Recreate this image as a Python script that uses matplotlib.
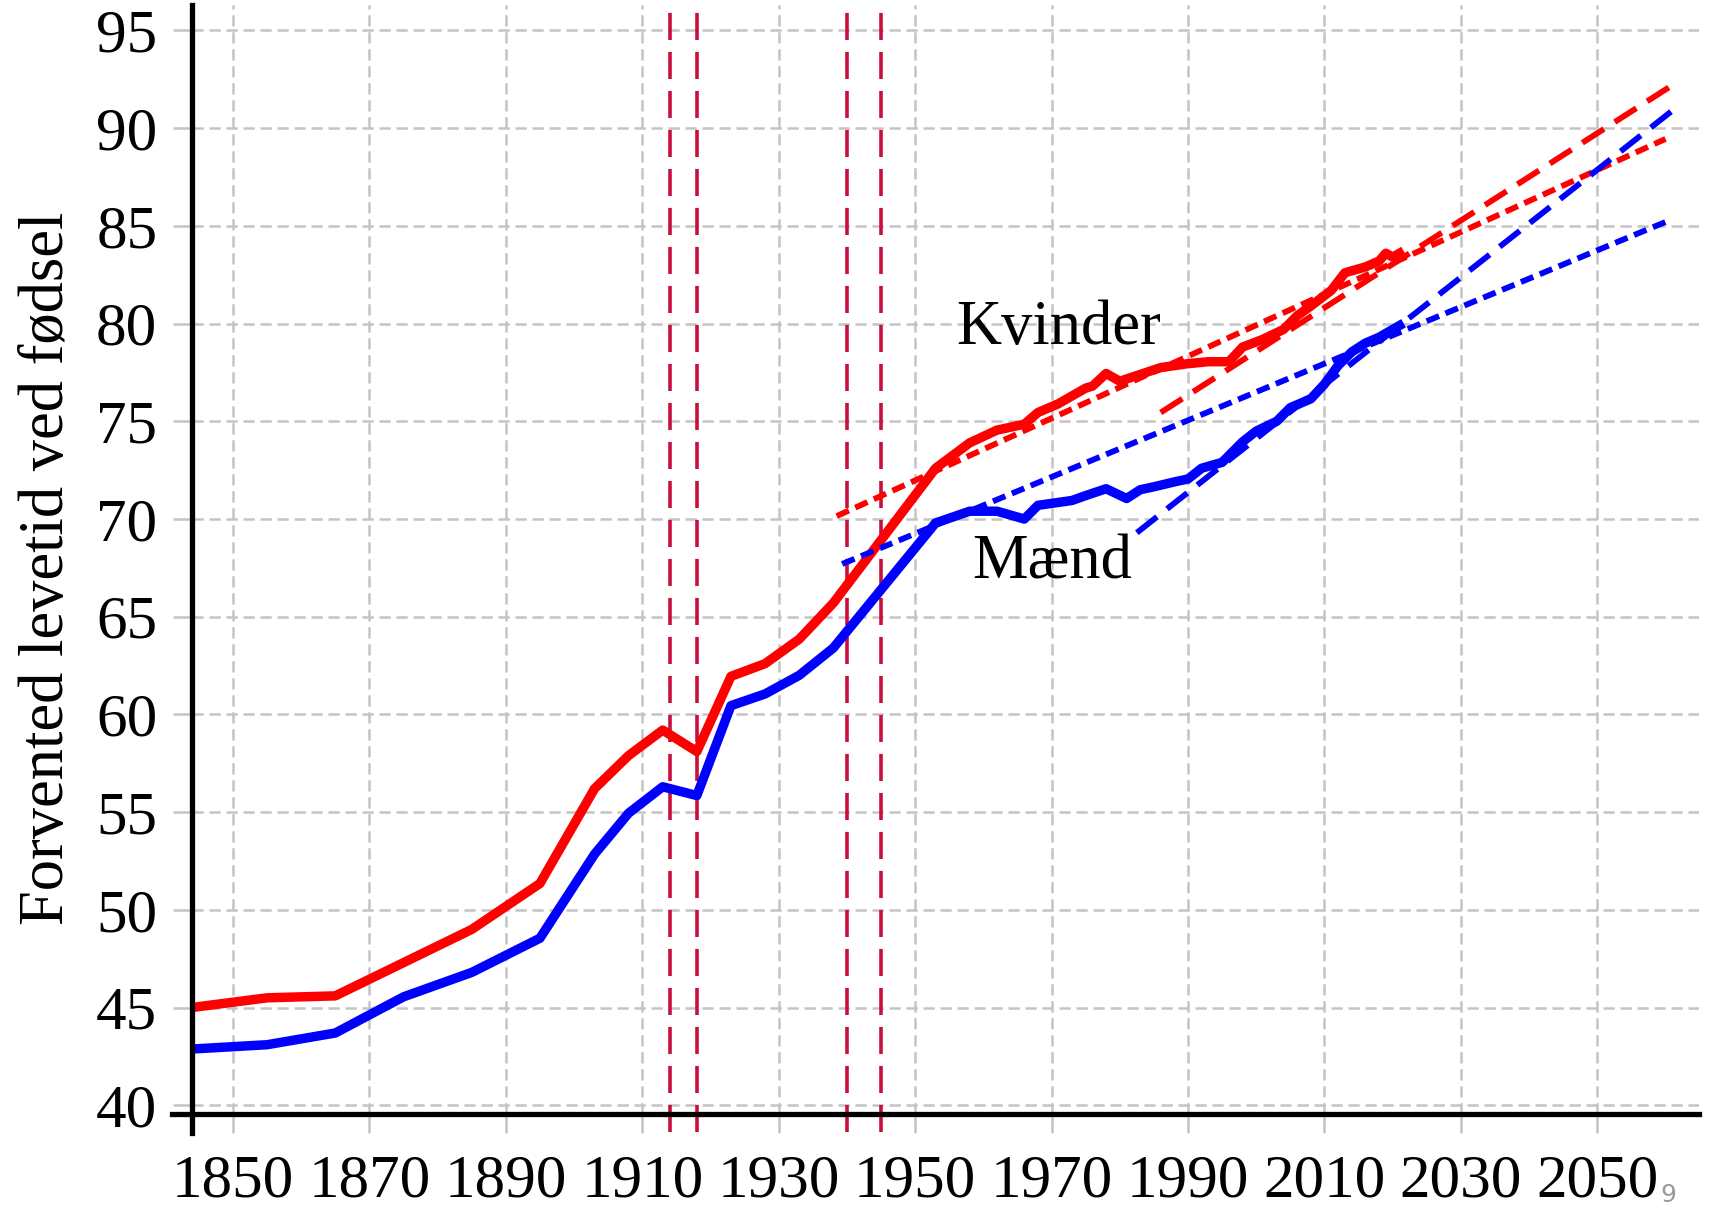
import numpy as np
import matplotlib
matplotlib.use("Agg")
import matplotlib.pyplot as plt

# Forventet levetid, kvinder og maend (aflaest fra figuren)
aar_kvinder = [1845, 1855, 1865, 1875, 1885, 1895, 1903, 1908, 1913, 1918, 1923, 1928,
               1933, 1938, 1953, 1958, 1962, 1966, 1968, 1971, 1975, 1976, 1978, 1980,
               1983, 1986, 1990, 1993, 1996, 1998, 2001, 2004, 2006, 2008, 2011, 2013,
               2016, 2018, 2019, 2020, 2021]
kvinder = [45.05, 45.5, 45.6, 47.3, 49.0, 51.35, 56.2, 57.9, 59.2, 58.1, 61.95, 62.6,
           63.85, 65.7, 72.6, 73.9, 74.55, 74.85, 75.45, 75.9, 76.7, 76.8, 77.45, 77.05,
           77.4, 77.75, 77.95, 78.05, 78.05, 78.8, 79.2, 79.7, 80.4, 80.9, 81.7, 82.6,
           82.9, 83.2, 83.6, 83.4, 83.6]

aar_maend = [1845, 1855, 1865, 1875, 1885, 1895, 1903, 1908, 1913, 1918, 1923, 1928,
             1933, 1938, 1953, 1958, 1962, 1966, 1968, 1971, 1973, 1975, 1978, 1981,
             1983, 1985, 1988, 1990, 1992, 1995, 1998, 2000, 2003, 2005, 2008, 2010,
             2012, 2014, 2016, 2018, 2021]
maend = [42.9, 43.1, 43.7, 45.55, 46.8, 48.55, 52.85, 54.95, 56.3, 55.85, 60.45, 61.05,
         62.0, 63.4, 69.8, 70.4, 70.4, 70.0, 70.7, 70.85, 70.95, 71.2, 71.55, 71.05,
         71.5, 71.65, 71.9, 72.05, 72.6, 72.9, 73.95, 74.5, 75.0, 75.7, 76.15, 76.9,
         77.85, 78.55, 79.0, 79.3, 79.9]

# Trendlinjer (start- og slutpunkt)
trend_kvinder_lang_x = [1938.5, 2060]
trend_kvinder_lang_y = [70.15, 89.45]
trend_maend_lang_x = [1939.3, 2060]
trend_maend_lang_y = [67.7, 85.2]
trend_kvinder_kort_x = [1986, 2061]
trend_kvinder_kort_y = [75.45, 92.2]
trend_maend_kort_x = [1982.5, 2061]
trend_maend_kort_y = [69.3, 90.9]

# Verdenskrigene
krig_aar = [1914, 1918, 1940, 1945]

x_ticks = list(range(1850, 2051, 20))
y_ticks = list(range(40, 96, 5))

plt.rcParams['font.family'] = ['Liberation Serif', 'DejaVu Serif']

fig = plt.figure(figsize=(17.13, 12.11), dpi=100)
ax = fig.add_axes([0.1121, 0.0805, 0.8797, 0.915])

rod = '#FF0000'
bla = '#0000FF'
krig_farve = '#C8103F'

for x in krig_aar:
    ax.plot([x, x], [38.65, 96.0], color=krig_farve, lw=2.6,
            linestyle=(0, (7.5, 3.3)), clip_on=False, zorder=2)

ax.plot(aar_kvinder, kvinder, color=rod, lw=6.8, zorder=3)
ax.plot(aar_maend, maend, color=bla, lw=6.8, zorder=3)

ax.plot(trend_kvinder_lang_x, trend_kvinder_lang_y, color=rod, lw=4.2,
        linestyle=(0, (2.3, 1.2)), zorder=4)
ax.plot(trend_maend_lang_x, trend_maend_lang_y, color=bla, lw=4.2,
        linestyle=(0, (2.3, 1.2)), zorder=4)
ax.plot(trend_kvinder_kort_x, trend_kvinder_kort_y, color=rod, lw=4.2,
        linestyle=(0, (4.4, 2.2)), zorder=4)
ax.plot(trend_maend_kort_x, trend_maend_kort_y, color=bla, lw=4.2,
        linestyle=(0, (4.4, 2.2)), zorder=4)

ax.text(1956.0, 78.96, 'Kvinder', fontsize=45, ha='left', va='baseline')
ax.text(1958.4, 66.94, 'Mænd', fontsize=45, ha='left', va='baseline')

ax.set_xlim(1844.0, 2064.9)
ax.set_ylim(39.58, 96.28)
ax.set_xticks(x_ticks)
ax.set_yticks(y_ticks)
ax.tick_params(axis='both', labelsize=44, length=14, width=1.8, color='#C4C4C4')
ax.tick_params(axis='x', pad=15)
ax.tick_params(axis='y', pad=11)

ax.grid(True, color='#C4C4C4', lw=1.8, linestyle=(0, (4.5, 2.3)), zorder=0)
ax.set_axisbelow(True)

for side in ['top', 'right']:
    ax.spines[side].set_visible(False)
for side in ['left', 'bottom']:
    ax.spines[side].set_linewidth(3.8)
    ax.spines[side].set_color('black')
    ax.spines[side].set_zorder(5)
ax.spines['left'].set_bounds(38.6, 96.28)
ax.spines['bottom'].set_bounds(1841.1, 2064.9)

ax.set_ylabel('Forvented levetid ved fødsel', fontsize=45)
ax.yaxis.label.set_va('center')
ax.yaxis.set_label_coords(-0.096, 0.492)

fig.text(1660 / 1713, 1 - 1202 / 1211, '9', fontsize=18, color='#999999',
         family='DejaVu Sans', ha='left', va='baseline')

fig.savefig('out.png', dpi=100)
